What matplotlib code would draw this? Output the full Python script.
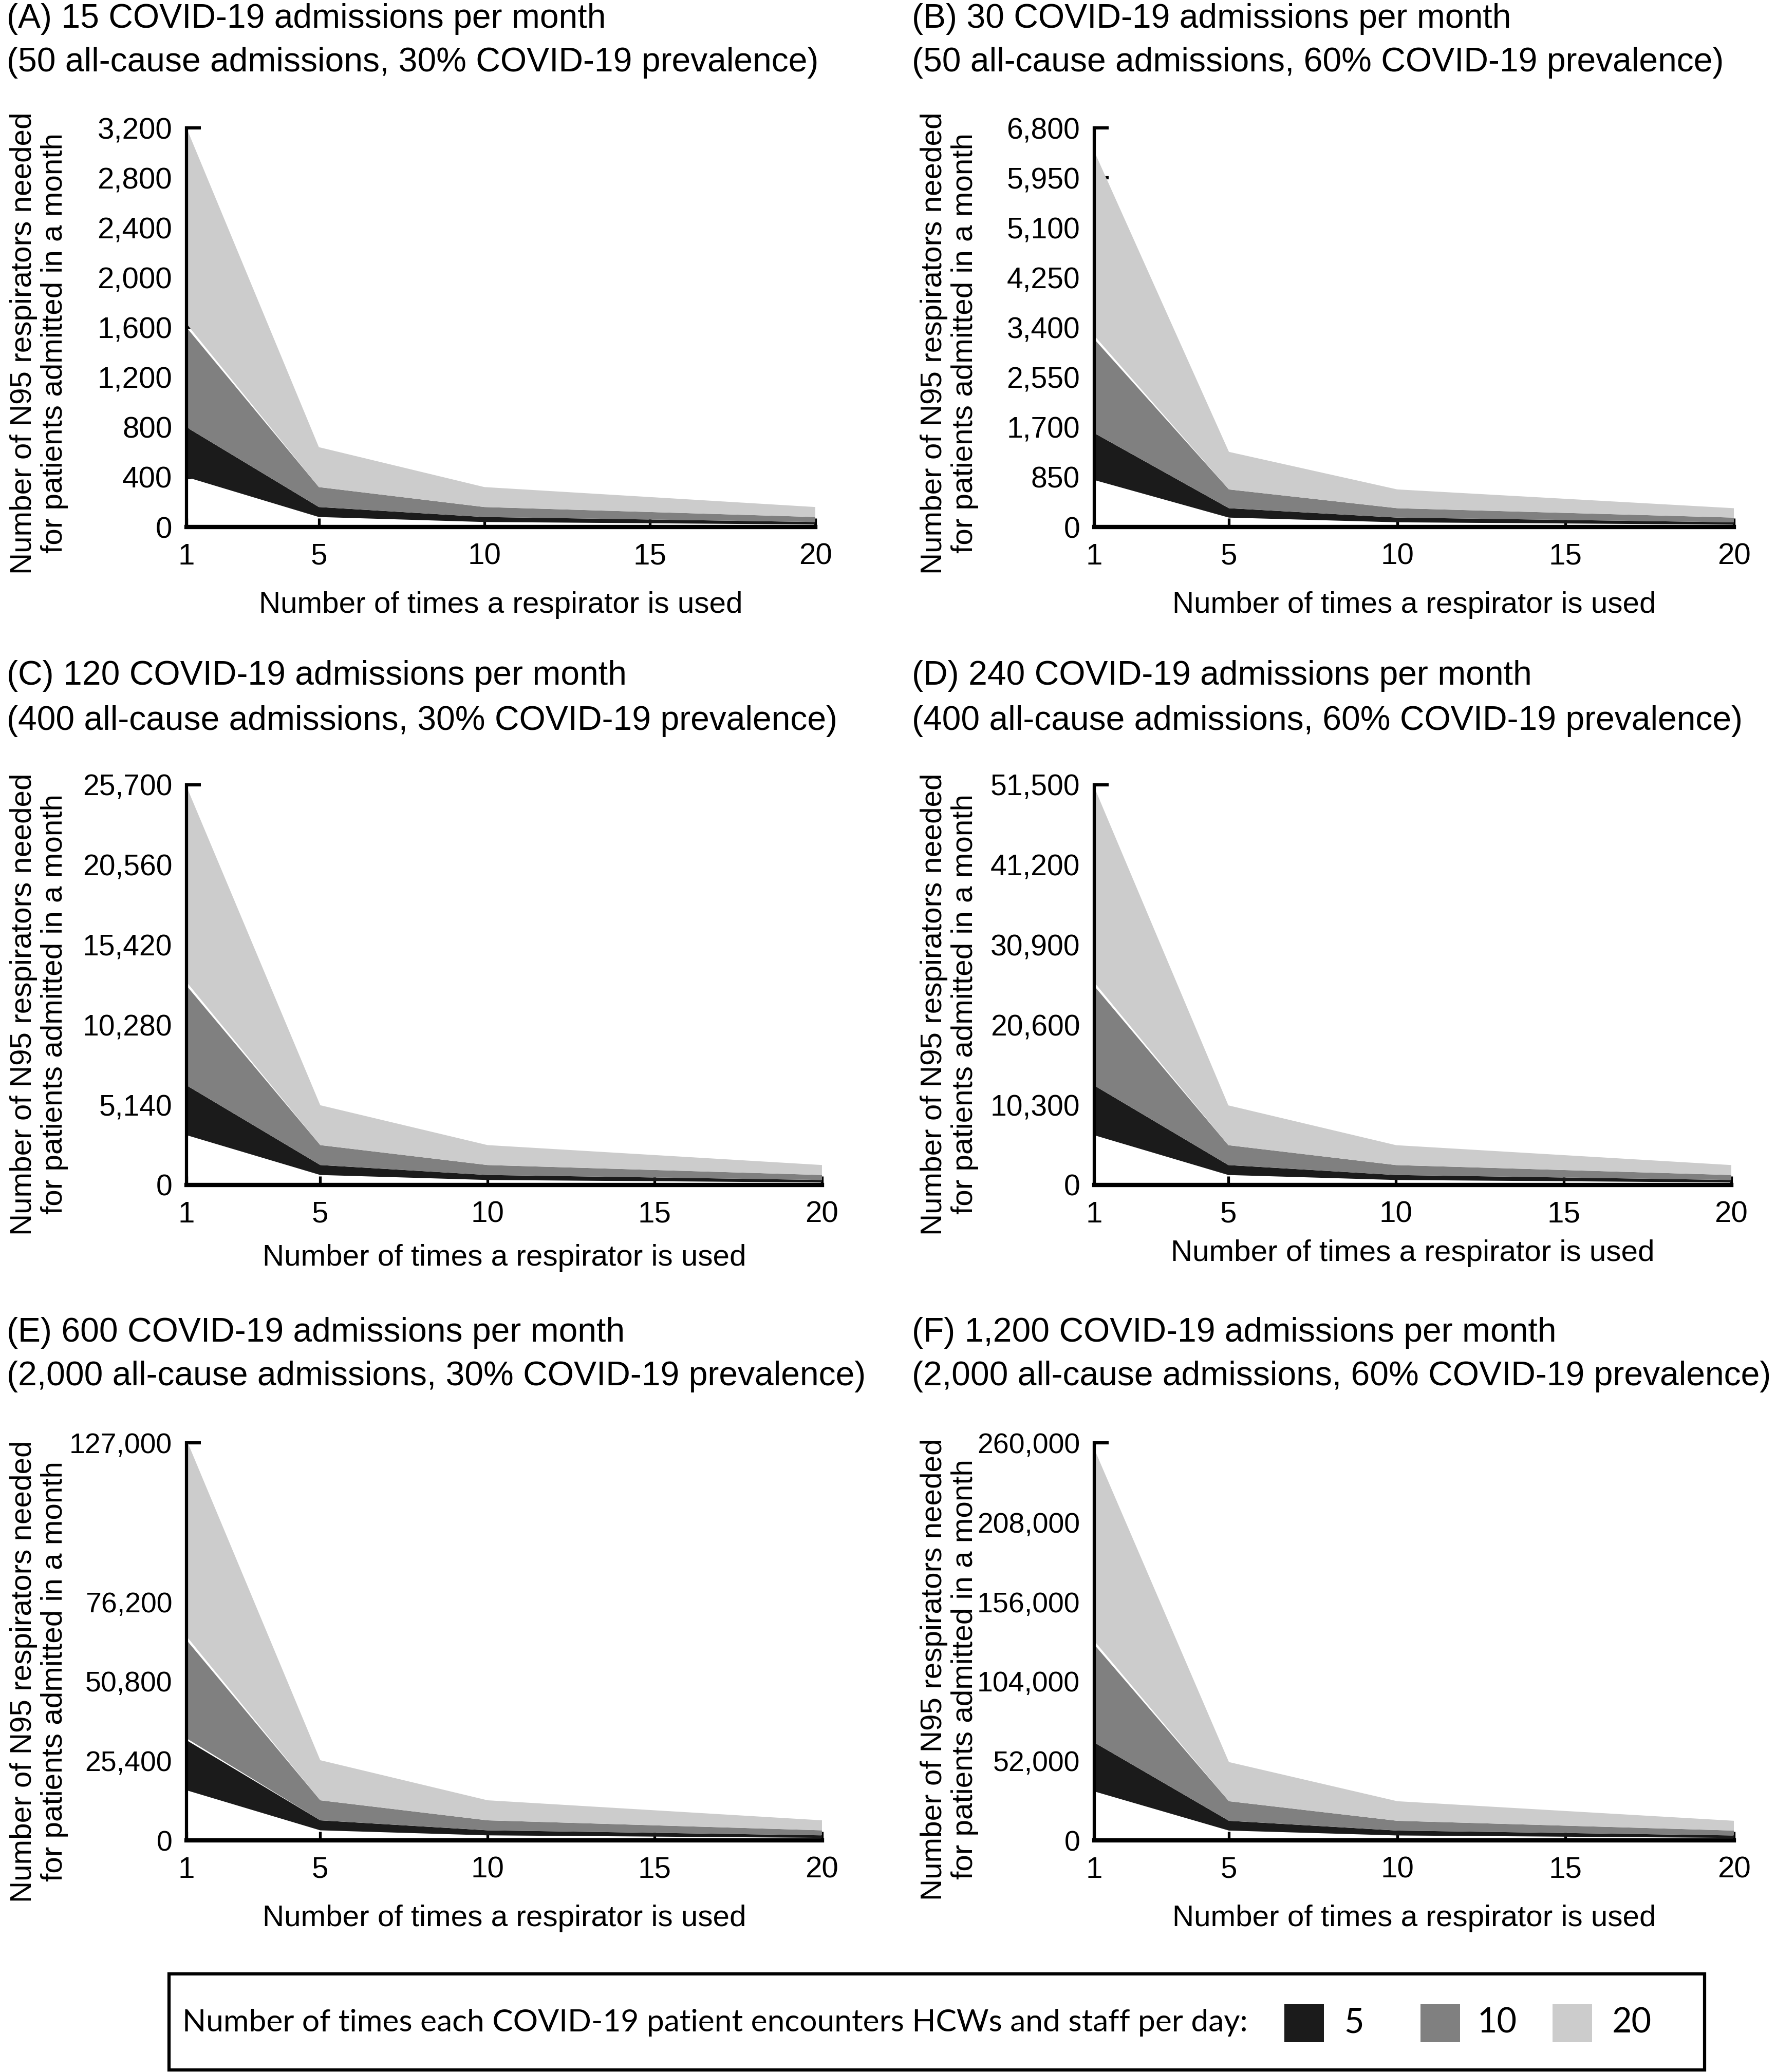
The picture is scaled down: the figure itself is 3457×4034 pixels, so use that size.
import matplotlib
matplotlib.use("Agg")
import matplotlib.pyplot as plt
from matplotlib.patches import Rectangle

# ---------------- data ----------------
X_USES = [1, 5, 10, 20]
X_TICKS = [1, 5, 10, 15, 20]

# (A) 15 admissions
A_lo5 = [400, 80, 40, 20]
A_hi5 = [800, 160, 80, 40]
A_lo10 = [800, 160, 80, 40]
A_hi10 = [1600, 320, 160, 80]
A_lo20 = [1630, 320, 160, 80]
A_hi20 = [3200, 640, 320, 160]
A_yticks = [0, 400, 800, 1200, 1600, 2000, 2400, 2800, 3200]

# (B) 30 admissions
B_lo5 = [800, 160, 80, 40]
B_hi5 = [1600, 320, 160, 80]
B_lo10 = [1600, 320, 160, 80]
B_hi10 = [3200, 640, 320, 160]
B_lo20 = [3260, 640, 320, 160]
B_hi20 = [6400, 1280, 640, 320]
B_yticks = [0, 850, 1700, 2550, 3400, 4250, 5100, 5950, 6800]

# (C) 120 admissions
C_lo5 = [3200, 640, 320, 160]
C_hi5 = [6400, 1280, 640, 320]
C_lo10 = [6400, 1280, 640, 320]
C_hi10 = [12800, 2560, 1280, 640]
C_lo20 = [13040, 2560, 1280, 640]
C_hi20 = [25600, 5120, 2560, 1280]
C_yticks = [0, 5140, 10280, 15420, 20560, 25700]

# (D) 240 admissions
D_lo5 = [6400, 1280, 640, 320]
D_hi5 = [12800, 2560, 1280, 640]
D_lo10 = [12800, 2560, 1280, 640]
D_hi10 = [25600, 5120, 2560, 1280]
D_lo20 = [26080, 5120, 2560, 1280]
D_hi20 = [51200, 10240, 5120, 2560]
D_yticks = [0, 10300, 20600, 30900, 41200, 51500]

# (E) 600 admissions
E_lo5 = [16000, 3200, 1600, 800]
E_hi5 = [32000, 6400, 3200, 1600]
E_lo10 = [32600, 6400, 3200, 1600]
E_hi10 = [64000, 12800, 6400, 3200]
E_lo20 = [65200, 12800, 6400, 3200]
E_hi20 = [128000, 25600, 12800, 6400]
E_yticks = [0, 25400, 50800, 76200, 101600, 127000]
E_ylabels = ["0", "25,400", "50,800", "76,200", "", "127,000"]

# (F) 1,200 admissions
F_lo5 = [32000, 6400, 3200, 1600]
F_hi5 = [64000, 12800, 6400, 3200]
F_lo10 = [64000, 12800, 6400, 3200]
F_hi10 = [128000, 25600, 12800, 6400]
F_lo20 = [130400, 25600, 12800, 6400]
F_hi20 = [256000, 51200, 25600, 12800]
F_yticks = [0, 52000, 104000, 156000, 208000, 260000]

TITLES = {
    "A": ("(A) 15 COVID-19 admissions per month",
          "(50 all-cause admissions, 30% COVID-19 prevalence)"),
    "B": ("(B) 30 COVID-19 admissions per month",
          "(50 all-cause admissions, 60% COVID-19 prevalence)"),
    "C": ("(C) 120 COVID-19 admissions per month",
          "(400 all-cause admissions, 30% COVID-19 prevalence)"),
    "D": ("(D) 240 COVID-19 admissions per month",
          "(400 all-cause admissions, 60% COVID-19 prevalence)"),
    "E": ("(E) 600 COVID-19 admissions per month",
          "(2,000 all-cause admissions, 30% COVID-19 prevalence)"),
    "F": ("(F) 1,200 COVID-19 admissions per month",
          "(2,000 all-cause admissions, 60% COVID-19 prevalence)"),
}
ENCOUNTERS = ["5", "10", "20"]
COLORS = ["#1b1b1b", "#808080", "#cccccc"]
XLABEL = "Number of times a respirator is used"
YLABEL = "Number of N95 respirators needed\nfor patients admitted in a month"
LEGEND_TITLE = "Number of times each COVID-19 patient encounters HCWs and staff per day:"

# ---------------- layout ----------------
W, H = 3457, 4034
DPI = 100
plt.rcParams["font.family"] = ["Liberation Sans", "DejaVu Sans"]
fig = plt.figure(figsize=(W / DPI, H / DPI), dpi=DPI)
fig.patch.set_facecolor("white")

def fx(px):
    return px / W

def fy(py):
    return 1 - py / H

panels = [
    # key, bands, yticks, ylabels, (l, r, t, b), title_x, title_y1, title_y2, xlabel_y, ylabel_y, tick_fs
    ("A", [(A_lo5, A_hi5), (A_lo10, A_hi10), (A_lo20, A_hi20)], A_yticks, None,
     (363, 1587, 249, 1026), 13, 37, 122, 1178, 668, 42),
    ("B", [(B_lo5, B_hi5), (B_lo10, B_hi10), (B_lo20, B_hi20)], B_yticks, None,
     (2130, 3375, 249, 1026), 1775, 37, 122, 1178, 668, 41),
    ("C", [(C_lo5, C_hi5), (C_lo10, C_hi10), (C_lo20, C_hi20)], C_yticks, None,
     (363, 1600, 1528, 2307), 13, 1316, 1404, 2449, 1955, 41),
    ("D", [(D_lo5, D_hi5), (D_lo10, D_hi10), (D_lo20, D_hi20)], D_yticks, None,
     (2130, 3370, 1528, 2307), 1775, 1316, 1404, 2440, 1955, 41),
    ("E", [(E_lo5, E_hi5), (E_lo10, E_hi10), (E_lo20, E_hi20)], E_yticks, E_ylabels,
     (363, 1600, 2809, 3583), 13, 2595, 2680, 3735, 3254, 40),
    ("F", [(F_lo5, F_hi5), (F_lo10, F_hi10), (F_lo20, F_hi20)], F_yticks, None,
     (2130, 3375, 2809, 3583), 1775, 2595, 2680, 3735, 3250, 40),
]

TITLE_FS = 47.5
LABEL_FS = 42

for key, bands, yticks, ylabels, (l, r, t, b), tx, ty1, ty2, xly, yly, tfs in panels:
    ax = fig.add_axes([fx(l), fy(b), fx(r) - fx(l), fy(t) - fy(b)])
    for (lo, hi), col in zip(bands, COLORS):
        ax.fill_between(X_USES, lo, hi, facecolor=col, edgecolor="none",
                        linewidth=0, zorder=2)
    ax.set_xlim(1, 20)
    ax.set_ylim(0, yticks[-1])
    ax.set_xticks(X_TICKS)
    ax.set_xticklabels([str(v) for v in X_TICKS])
    ax.set_yticks(yticks)
    if ylabels is None:
        ylabels = ["{:,}".format(v) for v in yticks]
    ax.set_yticklabels(ylabels)
    for s in ["top", "right"]:
        ax.spines[s].set_visible(False)
    ax.spines["left"].set_linewidth(4.5)
    ax.spines["bottom"].set_linewidth(6.0)
    ax.spines["left"].set_zorder(5)
    ax.spines["bottom"].set_zorder(5)
    ax.spines["left"].set_capstyle("projecting")
    ax.spines["bottom"].set_capstyle("projecting")
    ax.tick_params(axis="y", direction="in", length=20, width=4.5, pad=20,
                   labelsize=tfs, colors="black")
    ax.tick_params(axis="x", direction="in", length=12, width=3.8, pad=22,
                   labelsize=42, colors="black")
    for tk in ax.xaxis.get_major_ticks() + ax.yaxis.get_major_ticks():
        tk.tick1line.set_zorder(6)
    ax.set_facecolor("none")
    # panel titles
    fig.text(fx(tx), fy(ty1), TITLES[key][0], fontsize=TITLE_FS, ha="left", va="center")
    fig.text(fx(tx), fy(ty2), TITLES[key][1], fontsize=TITLE_FS, ha="left", va="center")
    # axis labels
    fig.text((fx(l) + fx(r)) / 2, fy(xly), XLABEL, fontsize=LABEL_FS, ha="center", va="center")
    ylx = 76 if l < 1000 else 1848
    fig.text(fx(ylx), fy(yly), YLABEL, fontsize=LABEL_FS, rotation=90,
             ha="center", va="center", multialignment="center", linespacing=1.15)

# ---------------- legend ----------------
box = Rectangle((fx(329), fy(4030)), fx(3318) - fx(329), fy(3843) - fy(4030),
                transform=fig.transFigure, facecolor="white", edgecolor="black",
                linewidth=4.5, zorder=1)
fig.patches.append(box)

LEG_FAMILY = ["Lato", "Open Sans", "DejaVu Sans"]
leg_fs = 40
lt = fig.text(fx(355), fy(3938), LEGEND_TITLE, fontsize=leg_fs, ha="left", va="center",
              family=LEG_FAMILY)
fig.canvas.draw()
wpx = lt.get_window_extent().width
lt.set_fontsize(leg_fs * 2073 / wpx)

patch_x = [2500, 2765, 3022]
label_x = [2636, 2914, 3176]
for px, lx, col, lab in zip(patch_x, label_x, COLORS, ENCOUNTERS):
    rect = Rectangle((fx(px), fy(3976)), fx(77), fy(3902) - fy(3976),
                     transform=fig.transFigure, facecolor=col, edgecolor="none", zorder=2)
    fig.patches.append(rect)
    fig.text(fx(lx), fy(3938), lab, fontsize=lt.get_fontsize() * 1.1, ha="center",
             va="center", family=LEG_FAMILY)

fig.savefig("out.png", dpi=DPI, facecolor="white")
